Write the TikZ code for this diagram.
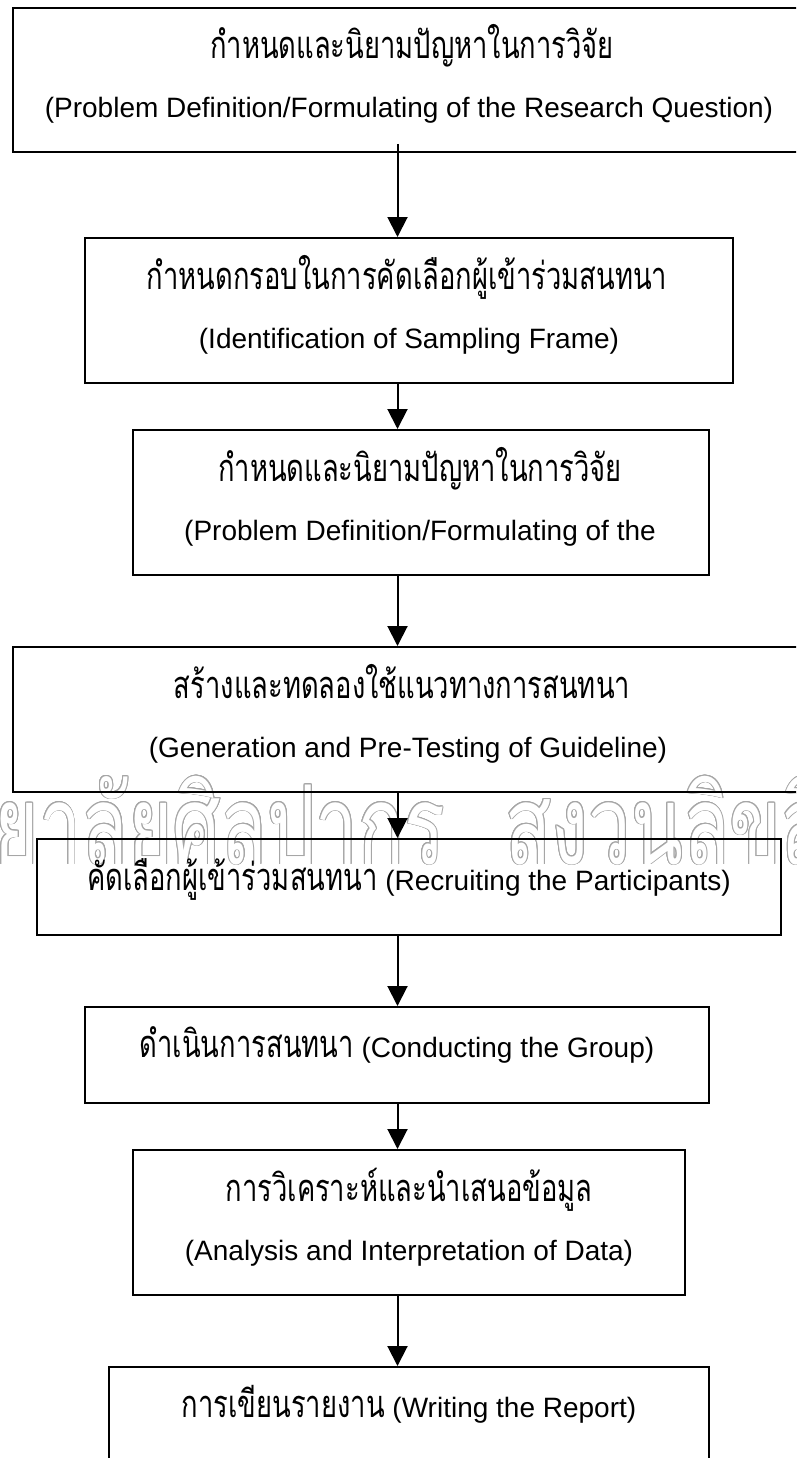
\documentclass[tikz,border=0pt]{standalone}
\usepackage{fontspec}
\setmainfont{Liberation Sans}
\newfontfamily\thaifont[Script=Thai,FakeStretch=0.72]{Loma}
\newfontfamily\wmfont[Script=Thai,FakeStretch=0.69]{Loma}
\usepackage[copies]{contour}
\usetikzlibrary{arrows.meta}
\newcommand\latsize{\fontsize{28}{34}\selectfont}
\newcommand\thaisize{\thaifont\fontsize{38}{44}\selectfont}
\begin{document}
\begin{tikzpicture}[x=1pt,y=-1pt,
  box/.style={draw,line width=2pt,inner sep=0pt},
  arr/.style={line width=2pt,-{Triangle[length=20pt,width=20pt]}},
  lat/.style={anchor=base,inner sep=0pt,font=\latsize},
  tha/.style={anchor=base,inner sep=0pt,font=\thaisize},
  wm/.style={inner sep=0pt,font=\wmfont\fontsize{110}{120}\selectfont}]
\useasboundingbox (0,0) rectangle (796,1458);
\clip (0,0) rectangle (796,1458);
\contourlength{0.9pt}
% watermark
\node[wm,anchor=base east] (w1) at (445,864) {\contour{black!35}{\textcolor{white}{วิทยาลัยศิลปากร}}};
\node[wm,anchor=base west] (w2) at (505,864) {\contour{black!35}{\textcolor{white}{สงวนลิขสิทธิ์}}};
% boxes
\node[box,minimum width=794pt,minimum height=144pt] (b1) at (410,80) {};
\node[box,minimum width=648pt,minimum height=145pt] (b2) at (409,310.5) {};
\node[box,minimum width=576pt,minimum height=145pt] (b3) at (421,502.5) {};
\node[box,minimum width=786pt,minimum height=145pt] (b4) at (406,719.5) {};
\node[box,minimum width=744pt,minimum height=96pt] (b5) at (409,887) {};
\node[box,minimum width=624pt,minimum height=96pt] (b6) at (397,1055) {};
\node[box,minimum width=552pt,minimum height=145pt] (b7) at (409,1222.5) {};
\node[box,minimum width=600pt,minimum height=145pt] (b8) at (409,1439.5) {};
% texts
\node[tha] (t1a) at (412,59) {กำหนดและนิยามปัญหาในการวิจัย};
\node[lat] (t1b) at (409,118) {(Problem Definition/Formulating of the Research Question)};
\node[tha] (t2a) at (407,289) {กำหนดกรอบในการคัดเลือกผู้เข้าร่วมสนทนา};
\node[lat] (t2b) at (409,348) {(Identification of Sampling Frame)};
\node[tha] (t3a) at (420,481) {กำหนดและนิยามปัญหาในการวิจัย};
\node[lat] (t3b) at (420,540) {(Problem Definition/Formulating of the};
\node[tha] (t4a) at (402,698) {สร้างและทดลองใช้แนวทางการสนทนา};
\node[lat] (t4b) at (408,757) {(Generation and Pre-Testing of Guideline)};
\node[lat] (t5) at (409,890) {{\thaisize คัดเลือกผู้เข้าร่วมสนทนา} (Recruiting the Participants)};
\node[lat] (t6) at (397,1057) {{\thaisize ดำเนินการสนทนา} (Conducting the Group)};
\node[tha] (t7a) at (409,1201) {การวิเคราะห์และนำเสนอข้อมูล};
\node[lat] (t7b) at (409,1260) {(Analysis and Interpretation of Data)};
\node[lat] (t8) at (409,1417) {{\thaisize การเขียนรายงาน} (Writing the Report)};
% connectors
\coordinate (ax) at (397.5,0);
\draw[arr] ([yshift=9pt]b1.south -| ax) -- (b2.north -| ax);
\draw[arr] (b2.south -| ax) -- (b3.north -| ax);
\draw[arr] (b3.south -| ax) -- (b4.north -| ax);
\draw[arr] (b4.south -| ax) -- (b5.north -| ax);
\draw[arr] (b5.south -| ax) -- (b6.north -| ax);
\draw[arr] (b6.south -| ax) -- (b7.north -| ax);
\draw[arr] (b7.south -| ax) -- (b8.north -| ax);
\end{tikzpicture}
\end{document}
